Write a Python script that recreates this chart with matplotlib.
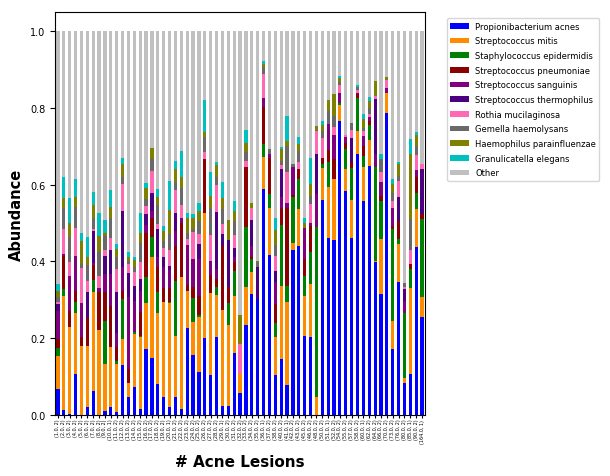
import matplotlib
matplotlib.use('Agg')
import matplotlib.pyplot as plt
import numpy as np

# x categories: (# acne lesions, group)
lesions = [1, 2, 3, 4, 5, 6, 7, 8, 9,
           10, 11, 12, 13, 14, 15, 16, 17, 18, 19, 20, 21, 22, 23, 24, 25, 26, 27, 28, 29,
           30, 31, 32, 33, 34, 35, 36, 37, 38, 40, 41, 42, 43, 45, 46, 48, 50, 51, 52, 54,
           55, 57, 58, 60, 62, 64, 66, 70, 73, 76, 80, 85, 90, 164]
groups = [2, 2, 2, 2, 2, 2, 2, 2, 2,
          1, 2, 2, 2, 2, 2, 2, 2, 2, 2, 1, 2, 2, 2, 2, 2, 2, 2, 2, 1,
          2, 2, 2, 2, 2, 2, 1, 2, 2, 2, 1, 2, 2, 2, 2, 2, 2, 1, 2, 2,
          2, 2, 2, 1, 2, 2, 2, 2, 2, 2, 2, 1, 2, 1]
tick_labels = [f'({l:.1f}, {g})' for l, g in zip(lesions, groups)]

species = ['Propionibacterium acnes', 'Streptococcus mitis', 'Staphylococcus epidermidis',
           'Streptococcus pneumoniae', 'Streptococcus sanguinis', 'Streptococcus thermophilus',
           'Rothia mucilaginosa', 'Gemella haemolysans', 'Haemophilus parainfluenzae',
           'Granulicatella elegans']

acnes = [.067, .013, .002, .106, 0, .019, .061, 0, .010, .019, .006, .129, .045, .071, .015, .171,
         .147, .080, .047, .019, .045, .015, .225, .156, .110, .199, .102, .202, .023, .023, .160,
         .056, .234, .315, .301, .588, .416, .103, .145, .076, .429, .440, .206, .202, 0, .560,
         .460, .455, .766, .584, .460, .679, .558, .649, .397, .315, .788, .171, .345, .083, .106,
         .438, .255]
mitis = [.087, .297, .226, .159, .180, .161, .258, .221, .122, .156, .126, .068, .037, .139, .188,
         .119, .263, .184, .246, .271, .161, .343, .098, .085, .144, .327, .215, .110, .250, .211,
         .150, .050, .098, .056, 0, .083, .122, .100, .191, .217, .018, .096, .104, .139, .047,
         .083, .133, .159, .041, .058, .100, .061, .088, .068, .004, .143, .052, .074, .100, .013,
         .223, .098, .053]
epidermidis = [.020, .018, 0, .030, 0, 0, .033, 0, .113, 0, .009, .104, 0, .005, .003, .068, .054,
               .055, 0, .004, .143, 0, 0, .063, .007, 0, 0, .022, 0, .056, .065, 0, .158, .035, 0,
               .034, .037, .036, .158, .043, .121, .078, .052, .082, .443, .012, .066, 0, .005, .050,
               .083, .087, .029, .038, .245, .100, 0, .239, .013, .169, .052, .043, .202]
pneumoniae = [.023, .086, .043, .028, .023, .071, .038, .098, .074, .109, .036, .022, .037, 0, .061,
              .115, .048, .065, .036, .035, .091, .143, .016, .030, .049, .142, .047, .021, .167,
              .042, .022, 0, .156, .006, 0, .098, .094, .049, .046, .202, .005, .026, .044, .070, 0,
              .014, .031, .052, 0, .018, .015, .009, .026, .011, 0, .013, 0, .009, .048, 0, .013,
              .042, .013]
sanguinis = [.074, .004, .091, .091, .087, 0, .005, .011, .048, .083, .035, .061, .187, .082, .056,
             .021, .018, .026, .055, .048, .040, .013, .103, .072, .096, 0, .036, .025, 0, 0, .015,
             0, 0, .028, 0, .024, .012, .057, .029, .015, .072, 0, .082, .006, .085, 0, .068, .063,
             .028, .015, 0, .004, .026, .011, .033, .035, .013, .047, 0, .032, 0, .017, 0]
thermophilus = [.017, 0, 0, 0, 0, .068, .085, 0, .046, .063, .107, .148, .063, .039, .031, .029,
                .048, .074, .026, .010, .047, 0, 0, 0, .039, 0, 0, .149, .031, .123, .022, 0, 0,
                .067, .083, 0, 0, .030, .073, 0, 0, 0, 0, 0, .104, 0, 0, 0, 0, 0, .063, 0, 0, 0,
                .145, 0, 0, 0, .062, .031, 0, 0, .119]
rothia = [.007, .066, .035, .074, .092, .030, .004, .032, .016, .030, .062, .071, .023, .035, .045,
          .022, .058, .013, .024, .043, .059, .032, .016, .071, .026, .017, .068, .070, .026, 0,
          .034, .078, .016, .031, 0, .061, 0, .039, .009, .079, 0, .018, 0, .050, .061, .054, 0,
          .022, .020, .005, .021, .006, .013, .007, .007, .028, .019, .017, .042, .004, .035, .039,
          .011]
gemella = [.013, .054, .067, .054, .011, .041, .030, .061, .036, .054, .029, .018, .010, .013, .050,
           .017, .032, .049, .020, .041, .021, .046, .017, .007, .035, .040, .070, .020, .039, 0,
           .038, 0, .024, 0, .013, .020, .011, .029, .011, .069, .010, .030, 0, .022, .004, .017,
           .034, .028, .009, 0, .020, .009, .009, .015, 0, .032, 0, .021, .013, .011, .081, .024, 0]
haemophilus = [.015, .026, .037, .026, .060, .020, .032, .044, .010, .028, .022, .032, .009, .019,
               .026, .029, .029, .022, .024, .062, .033, .029, .038, .030, .026, .013, .033, .033,
               .030, .052, .026, .077, .024, .015, .004, .007, 0, .039, .030, .013, 0, .019, .013,
               .030, .009, .015, .028, .059, .009, 0, 0, 0, .022, .020, .040, 0, .009, .023, .030,
               0, .171, .029, 0]
granulicatella = [.019, .057, .065, .048, .020, .054, .036, .058, .032, .044, .013, .016, .014, .007,
                  .050, .013, 0, .022, .013, .077, .022, .067, .014, .009, .021, .082, .062, .007,
                  .040, 0, .026, 0, .032, 0, 0, .008, 0, .032, .007, .065, 0, .018, .013, .068, 0,
                  .011, 0, 0, .006, 0, 0, .005, .013, .010, 0, .015, 0, .013, .006, 0, .039, .008, 0]

series = [acnes, mitis, epidermidis, pneumoniae, sanguinis, thermophilus, rothia, gemella,
          haemophilus, granulicatella]
colors = ['blue', 'darkorange', 'green', 'darkred', 'purple', 'indigo', 'hotpink', 'dimgray',
          'olive', 'c']

values = np.array(series)
other = 1 - values.sum(axis=0)

fig = plt.figure(figsize=(6.1, 4.77), dpi=100)
ax = fig.add_axes([0.0902, 0.1289, 0.6066, 0.8432])

x = np.arange(len(tick_labels))
bottom = np.zeros(len(x))
for name, vals, col in zip(species, values, colors):
    ax.bar(x, vals, 0.55, bottom=bottom, color=col, label=name)
    bottom += vals
ax.bar(x, other, 0.55, bottom=bottom, color='silver', label='Other')

ax.set_xlim(-0.5, len(x) - 0.5)
ax.set_ylim(0, 1.05)
ax.set_xticks(x)
ax.set_xticklabels(tick_labels, rotation=90, fontsize=3.5)
ax.tick_params(axis='y', labelsize=7)
ax.tick_params(axis='x', length=2, pad=1)

ax.set_ylabel('Abundance', fontsize=10.5, fontweight='bold')
ax.set_xlabel('# Acne Lesions', fontsize=11, fontweight='bold',
              family=['Liberation Sans Narrow', 'DejaVu Sans'], labelpad=8)

ax.legend(loc='upper left', bbox_to_anchor=(1.059, 0.985), borderaxespad=0,
          fontsize=6, labelspacing=0.68, handlelength=2.2)

fig.savefig('out.png', dpi=100)
